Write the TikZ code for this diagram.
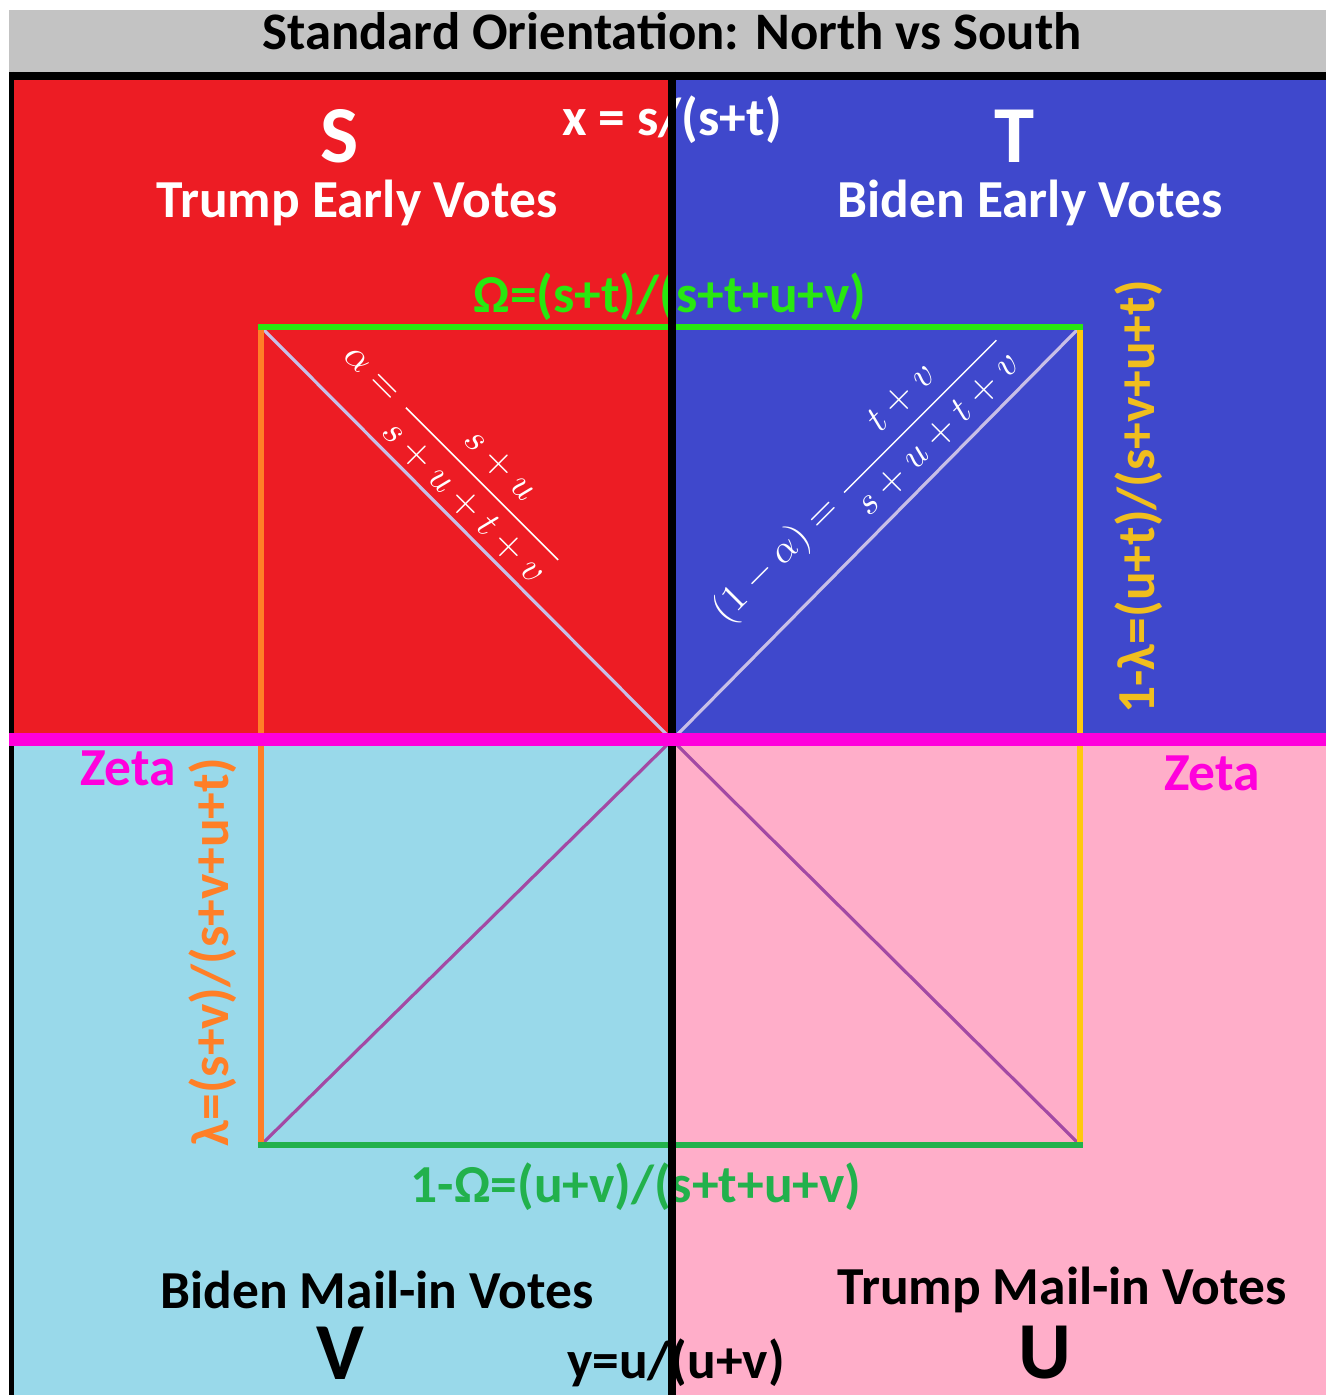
\documentclass[tikz,border=0pt]{standalone}
\usepackage{fontspec}
\setmainfont{Carlito}
\usepackage{amsmath}
\definecolor{nsred}{RGB}{237, 28, 36}
\definecolor{nsblue}{RGB}{63, 72, 204}
\definecolor{nslight}{RGB}{153, 217, 234}
\definecolor{nspink}{RGB}{255, 174, 201}
\definecolor{nsgray}{RGB}{195, 195, 195}
\definecolor{nsmagenta}{RGB}{255, 0, 220}
\definecolor{nsgreen}{RGB}{40, 232, 16}
\definecolor{nsdkgreen}{RGB}{34, 177, 76}
\definecolor{nsorange}{RGB}{255, 127, 39}
\definecolor{nsgold}{RGB}{255, 201, 14}
\definecolor{nsgoldtxt}{RGB}{240, 190, 30}
\definecolor{nslav}{RGB}{200, 191, 231}
\definecolor{nspurple}{RGB}{163, 73, 164}
\usetikzlibrary{calc}

\begin{document}
\begin{tikzpicture}[x=0.01cm, y=-0.01cm,
    lbl/.style={font=\bfseries\fontsize{15.2}{18}\selectfont, inner sep=0pt},
    big/.style={font=\bfseries\fontsize{23}{27}\selectfont, inner sep=0pt},
    hand/.style={white, inner sep=0pt, font=\fontsize{10.5}{12}\selectfont}]

\useasboundingbox (0,0) rectangle (1326,1395);

% === Cuadrantes ===
\fill[nsgray] (9,10) rectangle (1326,72);
\fill[nsred] (9,72) rectangle (672,740);
\fill[nsblue] (672,72) rectangle (1326,740);
\fill[nslight] (9,740) rectangle (672,1395);
\fill[nspink] (672,740) rectangle (1326,1395);

% Bordes
\draw[black, line width=2pt] (9,76) -- (1326,76);
\draw[black, line width=1.45pt] (11.5,72) -- (11.5,1395);

% === Esquinas del rectangulo ===
\coordinate (tl) at (261,327);
\coordinate (tr) at (1080,327);
\coordinate (br) at (1080,1145);
\coordinate (bl) at (261,1145);
\coordinate (c) at (672,740);

% Diagonales
\draw[nslav, line width=0.9pt] (tl) -- (c);
\draw[nslav, line width=0.9pt] (tr) -- (c);
\draw[nspurple, line width=0.9pt] (c) -- (bl);
\draw[nspurple, line width=0.9pt] (c) -- (br);

% Lados verticales y horizontales
\draw[nsorange, line width=1.7pt] (tl) -- (bl);
\draw[nsgold, line width=1.7pt] (tr) -- (br);
\draw[nsgreen, line width=1.8pt] ($(tl)+(-3,0)$) -- ($(tr)+(3,0)$);
\draw[nsdkgreen, line width=1.8pt] ($(bl)+(-3,0)$) -- ($(br)+(3,0)$);

% === Textos ===
\node[font=\bfseries\fontsize{15}{18}\selectfont, inner sep=0pt] (title) at (672,31)
    {Standard Orientation: North vs South};

\node[big, white] (s) at (340,136) {S};
\node[lbl, white] (sname) at (357,203) {Trump Early Votes};
\node[big, white] (t) at (1015,136) {T};
\node[lbl, white] (tname) at (1030,203) {Biden Early Votes};
\node[lbl, white] (x) at (672,120) {x = s/(s+t)};

\node[lbl, nsgreen] (omega) at (670,297) {Ω=(s+t)/(s+t+u+v)};
\node[lbl, nsgoldtxt, rotate=90] (lam1) at (1139,497) {1-λ=(u+t)/(s+v+u+t)};
\node[lbl, nsmagenta] (zeta1) at (128,768) {Zeta};
\node[lbl, nsmagenta] (zeta2) at (1212,773) {Zeta};
\node[lbl, nsorange, rotate=90] (lam) at (213,952) {λ=(s+v)/(s+v+u+t)};
\node[lbl, nsdkgreen] (omega1) at (636,1187) {1-Ω=(u+v)/(s+t+u+v)};

\node[lbl] (vname) at (377,1290) {Biden Mail-in Votes};
\node[big] (v) at (340,1353) {V};
\node[lbl] (uname) at (1062,1290) {Trump Mail-in Votes};
\node[big] (u) at (1045,1353) {U};
\node[lbl] (y) at (676,1363) {y=u/(u+v)};

% Formulas manuscritas
\node[hand, rotate=-45] (alpha) at (455,457)
    {$\alpha=\dfrac{s+u}{s+u+t+v}$};
\node[hand, rotate=45] (alpha1) at (859,477)
    {$(1-\alpha)=\dfrac{t+v}{s+u+t+v}$};

% === Lineas centrales (encima de todo) ===
\draw[black, line width=2pt] (672,72) -- (672,1395);
\draw[nsmagenta, line width=3.7pt] (9,739.5) -- (1326,739.5);

\end{tikzpicture}
\end{document}
